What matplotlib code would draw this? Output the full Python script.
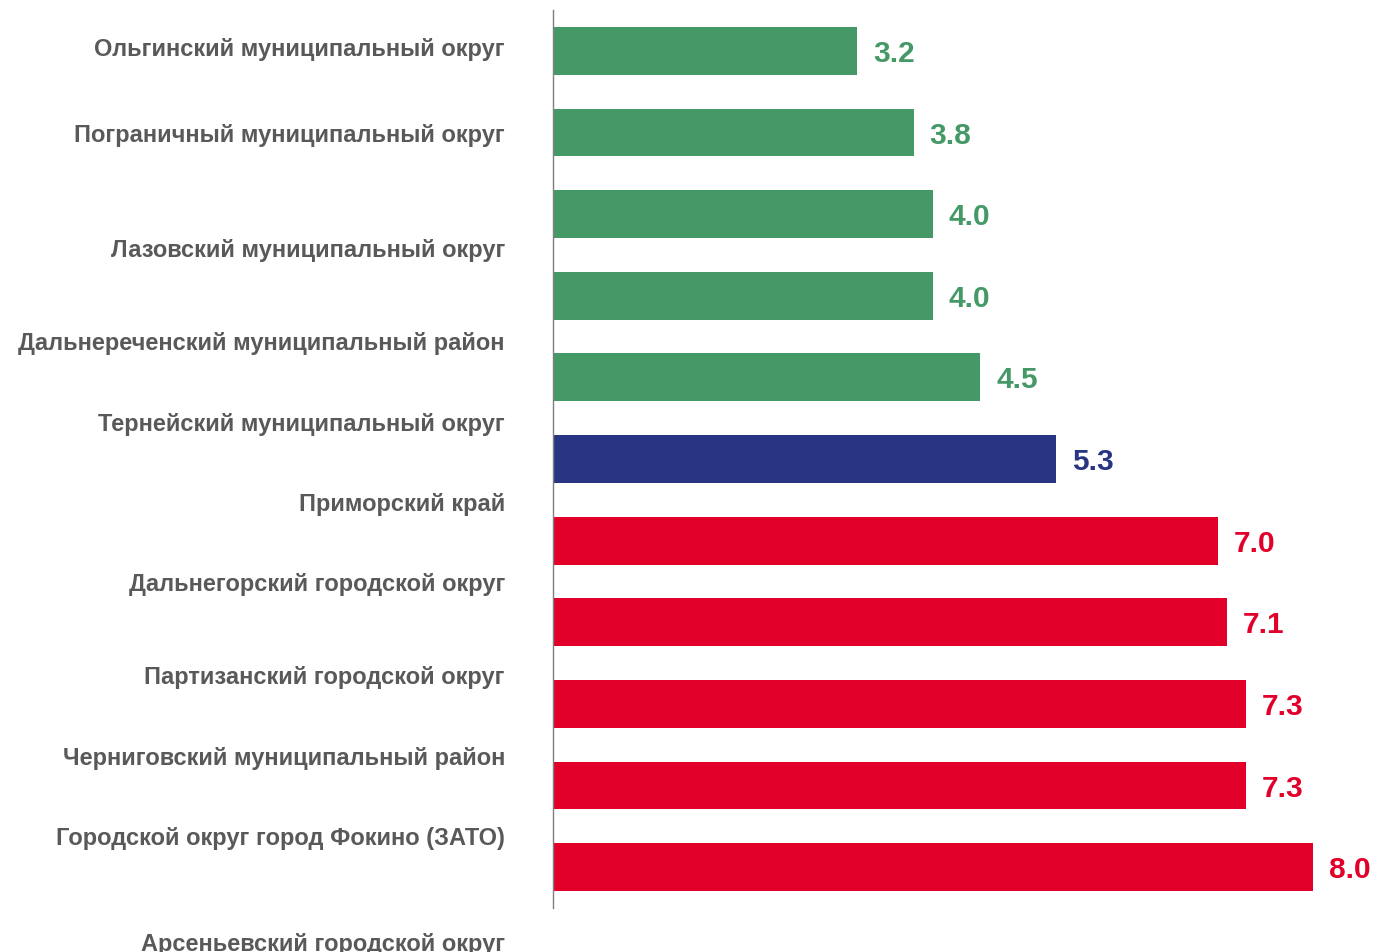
import matplotlib.pyplot as plt
import matplotlib.transforms as mtransforms

plt.rcParams['font.family'] = ['Liberation Sans', 'DejaVu Sans']

# category labels, top to bottom
labels = [
    'Ольгинский муниципальный округ',
    'Пограничный муниципальный округ',
    'Лазовский муниципальный округ',
    'Дальнереченский муниципальный район',
    'Тернейский муниципальный округ',
    'Приморский край',
    'Дальнегорский городской округ',
    'Партизанский городской округ',
    'Черниговский муниципальный район',
    'Городской округ город Фокино (ЗАТО)',
    'Арсеньевский городской округ',
]

# bar values top to bottom
values = [3.2, 3.8, 4.0, 4.0, 4.5, 5.3, 7.0, 7.1, 7.3, 7.3, 8.0]
groups = ['g', 'g', 'g', 'g', 'g', 'b', 'r', 'r', 'r', 'r', 'r']

colors = {'g': '#459967', 'b': '#283583', 'r': '#E2002B'}

# y position of each label (in bar units, as laid out in the slide)
label_pos = [-0.03, 1.02, 2.43, 3.57, 4.57, 5.55, 6.53, 7.67, 8.66, 9.64, 10.93]

fig = plt.figure(figsize=(13.73, 9.53), dpi=100)
ax = fig.add_axes([553 / 1373, 1 - 909 / 953, 807 / 1373, 898 / 953])

ypos = list(range(len(values)))
bar_colors = [colors[g] for g in groups]
ax.barh(ypos, values, height=0.585, color=bar_colors)
ax.set_ylim(10.5, -0.5)
ax.set_xlim(0, 8.5)

for y, v, c in zip(ypos, values, bar_colors):
    ax.annotate(f'{v:.1f}', xy=(v, y), xytext=(16 * 0.72, -1.5), textcoords='offset points',
                ha='left', va='center', fontsize=21.5, fontweight='bold', color=c)

offset = mtransforms.ScaledTranslation(-48 / 100, 0, fig.dpi_scale_trans)
trans = ax.get_yaxis_transform() + offset
for lab, p in zip(labels, label_pos):
    ax.text(0, p, lab, transform=trans, ha='right', va='center', fontsize=17,
            fontweight='bold', color='#595959', clip_on=False)

for s in ['top', 'right', 'bottom']:
    ax.spines[s].set_visible(False)
ax.spines['left'].set_color('#7f7f7f')
ax.spines['left'].set_linewidth(1.0)
ax.set_xticks([])
ax.set_yticks([])

fig.savefig('out.png', dpi=100)
